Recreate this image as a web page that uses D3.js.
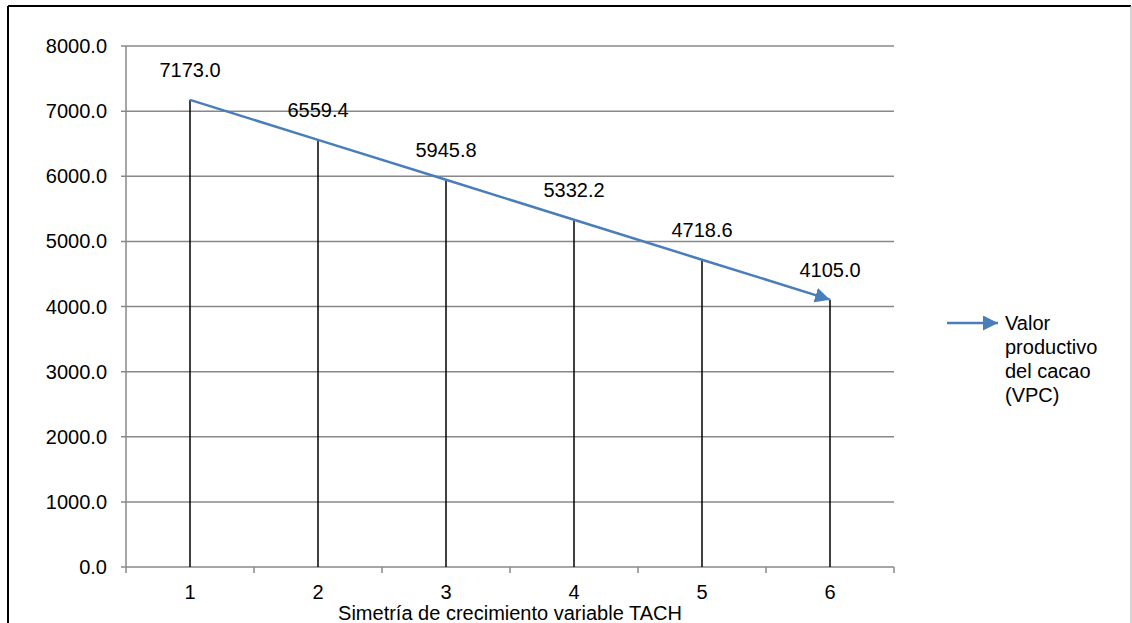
<!DOCTYPE html>
<html>
<head>
<meta charset="utf-8">
<script src="https://cdn.jsdelivr.net/npm/d3@7"></script>
<style>
  body { margin: 0; background: #fff; }
  svg { display: block; font-family: Arial, "Liberation Sans", sans-serif; }
</style>
</head>
<body>
<svg width="1132" height="623"></svg>
<script>
// datos
const categories = ["1", "2", "3", "4", "5", "6"];
const vpcValues = [7173.0, 6559.4, 5945.8, 5332.2, 4718.6, 4105.0];
const yTicks = [0, 1000, 2000, 3000, 4000, 5000, 6000, 7000, 8000];
const xTitle = "Simetría de crecimiento variable TACH";
const legendLines = ["Valor", "productivo", "del cacao", "(VPC)"];

const svg = d3.select("svg");
const blue = "#4a7ebb";
const grid = "#888";

// marco
svg.append("line").attr("x1", 8).attr("y1", 6).attr("x2", 1131).attr("y2", 6)
  .attr("stroke", "#000").attr("stroke-width", 2);
svg.append("line").attr("x1", 8).attr("y1", 6).attr("x2", 8).attr("y2", 623)
  .attr("stroke", "#000").attr("stroke-width", 2);
svg.append("line").attr("x1", 1131).attr("y1", 6).attr("x2", 1131).attr("y2", 623)
  .attr("stroke", "#aaa").attr("stroke-width", 1);

const x = d3.scaleBand().domain(categories).range([126, 894]).padding(0);
const y = d3.scaleLinear().domain([0, 8000]).range([567, 46]);
const cx = d => x(d) + x.bandwidth() / 2;

// lineas de cuadricula
svg.append("g").selectAll("line").data(yTicks).join("line")
  .attr("x1", 121).attr("x2", 894)
  .attr("y1", d => y(d)).attr("y2", d => y(d))
  .attr("stroke", grid).attr("stroke-width", 1.5);

// eje y
svg.append("line").attr("x1", 126).attr("x2", 126).attr("y1", y(8000)).attr("y2", y(0))
  .attr("stroke", grid).attr("stroke-width", 1.5);
svg.append("g").selectAll("text").data(yTicks).join("text")
  .attr("x", 107).attr("y", d => y(d)).attr("dy", "0.35em")
  .attr("text-anchor", "end").attr("font-size", 20).attr("fill", "#000")
  .text(d => d3.format(".1f")(d));

// eje x (marcas entre categorias)
const bounds = categories.map(c => x(c)).concat([x(categories[categories.length - 1]) + x.bandwidth()]);
svg.append("g").selectAll("line").data(bounds).join("line")
  .attr("x1", d => d).attr("x2", d => d).attr("y1", y(0)).attr("y2", y(0) + 6)
  .attr("stroke", grid).attr("stroke-width", 1.5);
svg.append("g").selectAll("text").data(categories).join("text")
  .attr("x", d => cx(d)).attr("y", 599)
  .attr("text-anchor", "middle").attr("font-size", 20).attr("fill", "#000")
  .text(d => d);
svg.append("text").attr("x", (126 + 894) / 2).attr("y", 620)
  .attr("text-anchor", "middle").attr("font-size", 20).attr("fill", "#000")
  .text(xTitle);

// lineas de caida
svg.append("g").selectAll("line").data(categories).join("line")
  .attr("x1", d => cx(d)).attr("x2", d => cx(d))
  .attr("y1", (d, i) => y(vpcValues[i])).attr("y2", y(0))
  .attr("stroke", "#000").attr("stroke-width", 1.5);

// flecha
svg.append("defs").append("marker")
  .attr("id", "arrow").attr("viewBox", "0 0 10 10")
  .attr("refX", 10).attr("refY", 5)
  .attr("markerWidth", 6).attr("markerHeight", 6)
  .attr("markerUnits", "strokeWidth")
  .attr("orient", "auto")
  .append("path").attr("d", "M0,0 L10,5 L0,10 Z").attr("fill", blue);

const pts = categories.map((c, i) => [cx(c), y(vpcValues[i])]);
svg.append("path").attr("d", d3.line()(pts))
  .attr("fill", "none").attr("stroke", blue).attr("stroke-width", 2.5)
  .attr("marker-end", "url(#arrow)");

// etiquetas de datos
svg.append("g").selectAll("text").data(categories).join("text")
  .attr("x", d => cx(d)).attr("y", (d, i) => y(vpcValues[i]) - 30).attr("dy", "0.35em")
  .attr("text-anchor", "middle").attr("font-size", 20).attr("fill", "#000")
  .text((d, i) => d3.format(".1f")(vpcValues[i]));

// leyenda
svg.append("line").attr("x1", 947).attr("x2", 998).attr("y1", 323).attr("y2", 323)
  .attr("stroke", blue).attr("stroke-width", 2.5).attr("marker-end", "url(#arrow)");
svg.append("g").selectAll("text").data(legendLines).join("text")
  .attr("x", 1005).attr("y", (d, i) => 323 + i * 24).attr("dy", "0.35em")
  .attr("font-size", 20).attr("fill", "#000")
  .text(d => d);
</script>
</body>
</html>
